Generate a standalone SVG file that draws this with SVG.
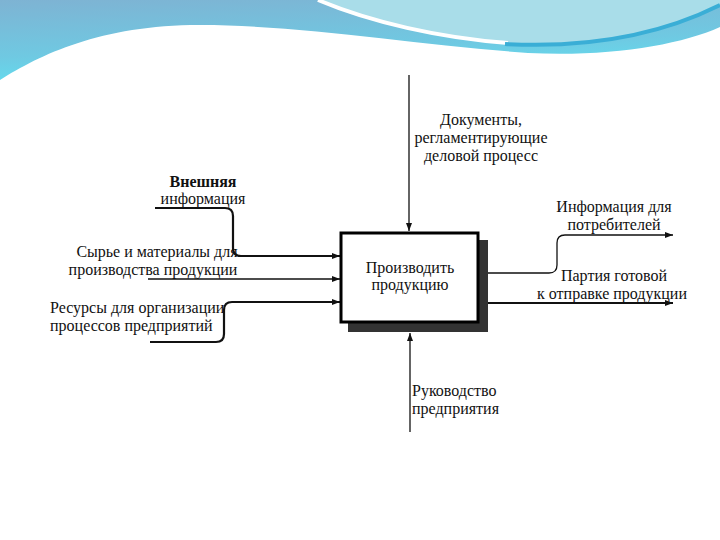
<svg xmlns="http://www.w3.org/2000/svg" width="720" height="540" viewBox="0 0 720 540">
<style>
text{font-family:"Liberation Serif","Times New Roman",serif;font-size:16px;fill:#111}
.c{text-anchor:middle}
.ln{fill:none;stroke:#111;stroke-width:1.3}
.th{fill:none;stroke:#111;stroke-width:2.2}
</style>
<defs>
<linearGradient id="bg" x1="0" y1="0" x2="0.25" y2="1">
<stop offset="0" stop-color="#7eb3d3"/>
<stop offset="0.6" stop-color="#6fc9e2"/>
<stop offset="1" stop-color="#5ee3f3"/>
</linearGradient>
<marker id="ah" viewBox="0 0 8 6" refX="8" refY="3" markerWidth="8" markerHeight="6" markerUnits="userSpaceOnUse" orient="auto">
<path d="M0,0 L8,3 L0,6 Z" fill="#111"/>
</marker>
</defs>
<rect width="720" height="540" fill="#fff"/>
<g id="banner">
<rect width="720" height="90" fill="url(#bg)"/>
<path d="M318,0 C370,22 440,38 512,44 C600,48 670,30 720,5 V0 Z" fill="#a9dde9"/>
<path d="M318,0 C370,22 440,38 508,43" fill="none" stroke="#fff" stroke-width="4"/>
<path d="M505,44 C600,49 670,30 720,5" fill="none" stroke="#3aaed6" stroke-width="4"/>
<path d="M0,80 C40,55 100,25 200,25 C300,25 420,45 528,53 C610,57 680,45 720,27 L720,540 L0,540 Z" fill="#fff"/>
</g>
<g id="connectors">
<path class="ln" d="M409,75 V231" marker-end="url(#ah)"/>
<path class="ln" d="M410,432 V333" marker-end="url(#ah)"/>
<path class="th" d="M155,208 H225 Q233,208 233,216 V248 Q233,256 241,256 H340" marker-end="url(#ah)"/>
<path class="ln" d="M148,279 H340" marker-end="url(#ah)"/>
<path class="th" d="M150,342 H216 Q224,342 224,334 V310 Q224,302 232,302 H340" marker-end="url(#ah)"/>
<path class="ln" d="M478,273 H549 Q557,273 557,265 V243 Q557,235 565,235 H673" marker-end="url(#ah)"/>
<path class="th" d="M478,303 H673" marker-end="url(#ah)"/>
</g>
<g id="node-produce">
<rect x="348" y="240" width="140" height="92" fill="#333"/>
<rect x="341" y="233" width="137" height="89" fill="#fff" stroke="#000" stroke-width="3"/>
<text class="c" x="410" y="273">Производить</text>
<text class="c" x="410" y="290">продукцию</text>
</g>
<g id="label-docs">
<text class="c" x="481" y="125">Документы,</text>
<text class="c" x="481" y="143">регламентирующие</text>
<text class="c" x="481" y="161">деловой процесс</text>
</g>
<g id="label-ext">
<text class="c" x="203" y="187" font-weight="bold">Внешняя</text>
<text class="c" x="203" y="204">информация</text>
</g>
<g id="label-raw">
<text class="c" x="157" y="257">Сырье и материалы для</text>
<text class="c" x="153" y="275">производства продукции</text>
</g>
<g id="label-res">
<text x="50" y="313">Ресурсы для организации</text>
<text x="50" y="331">процессов предприятий</text>
</g>
<g id="label-info">
<text class="c" x="614" y="212">Информация для</text>
<text class="c" x="614" y="230">потребителей</text>
</g>
<g id="label-batch">
<text class="c" x="614" y="281">Партия готовой</text>
<text class="c" x="612" y="299">к отправке продукции</text>
</g>
<g id="label-mgmt">
<text x="412" y="396">Руководство</text>
<text x="412" y="414">предприятия</text>
</g>
</svg>
